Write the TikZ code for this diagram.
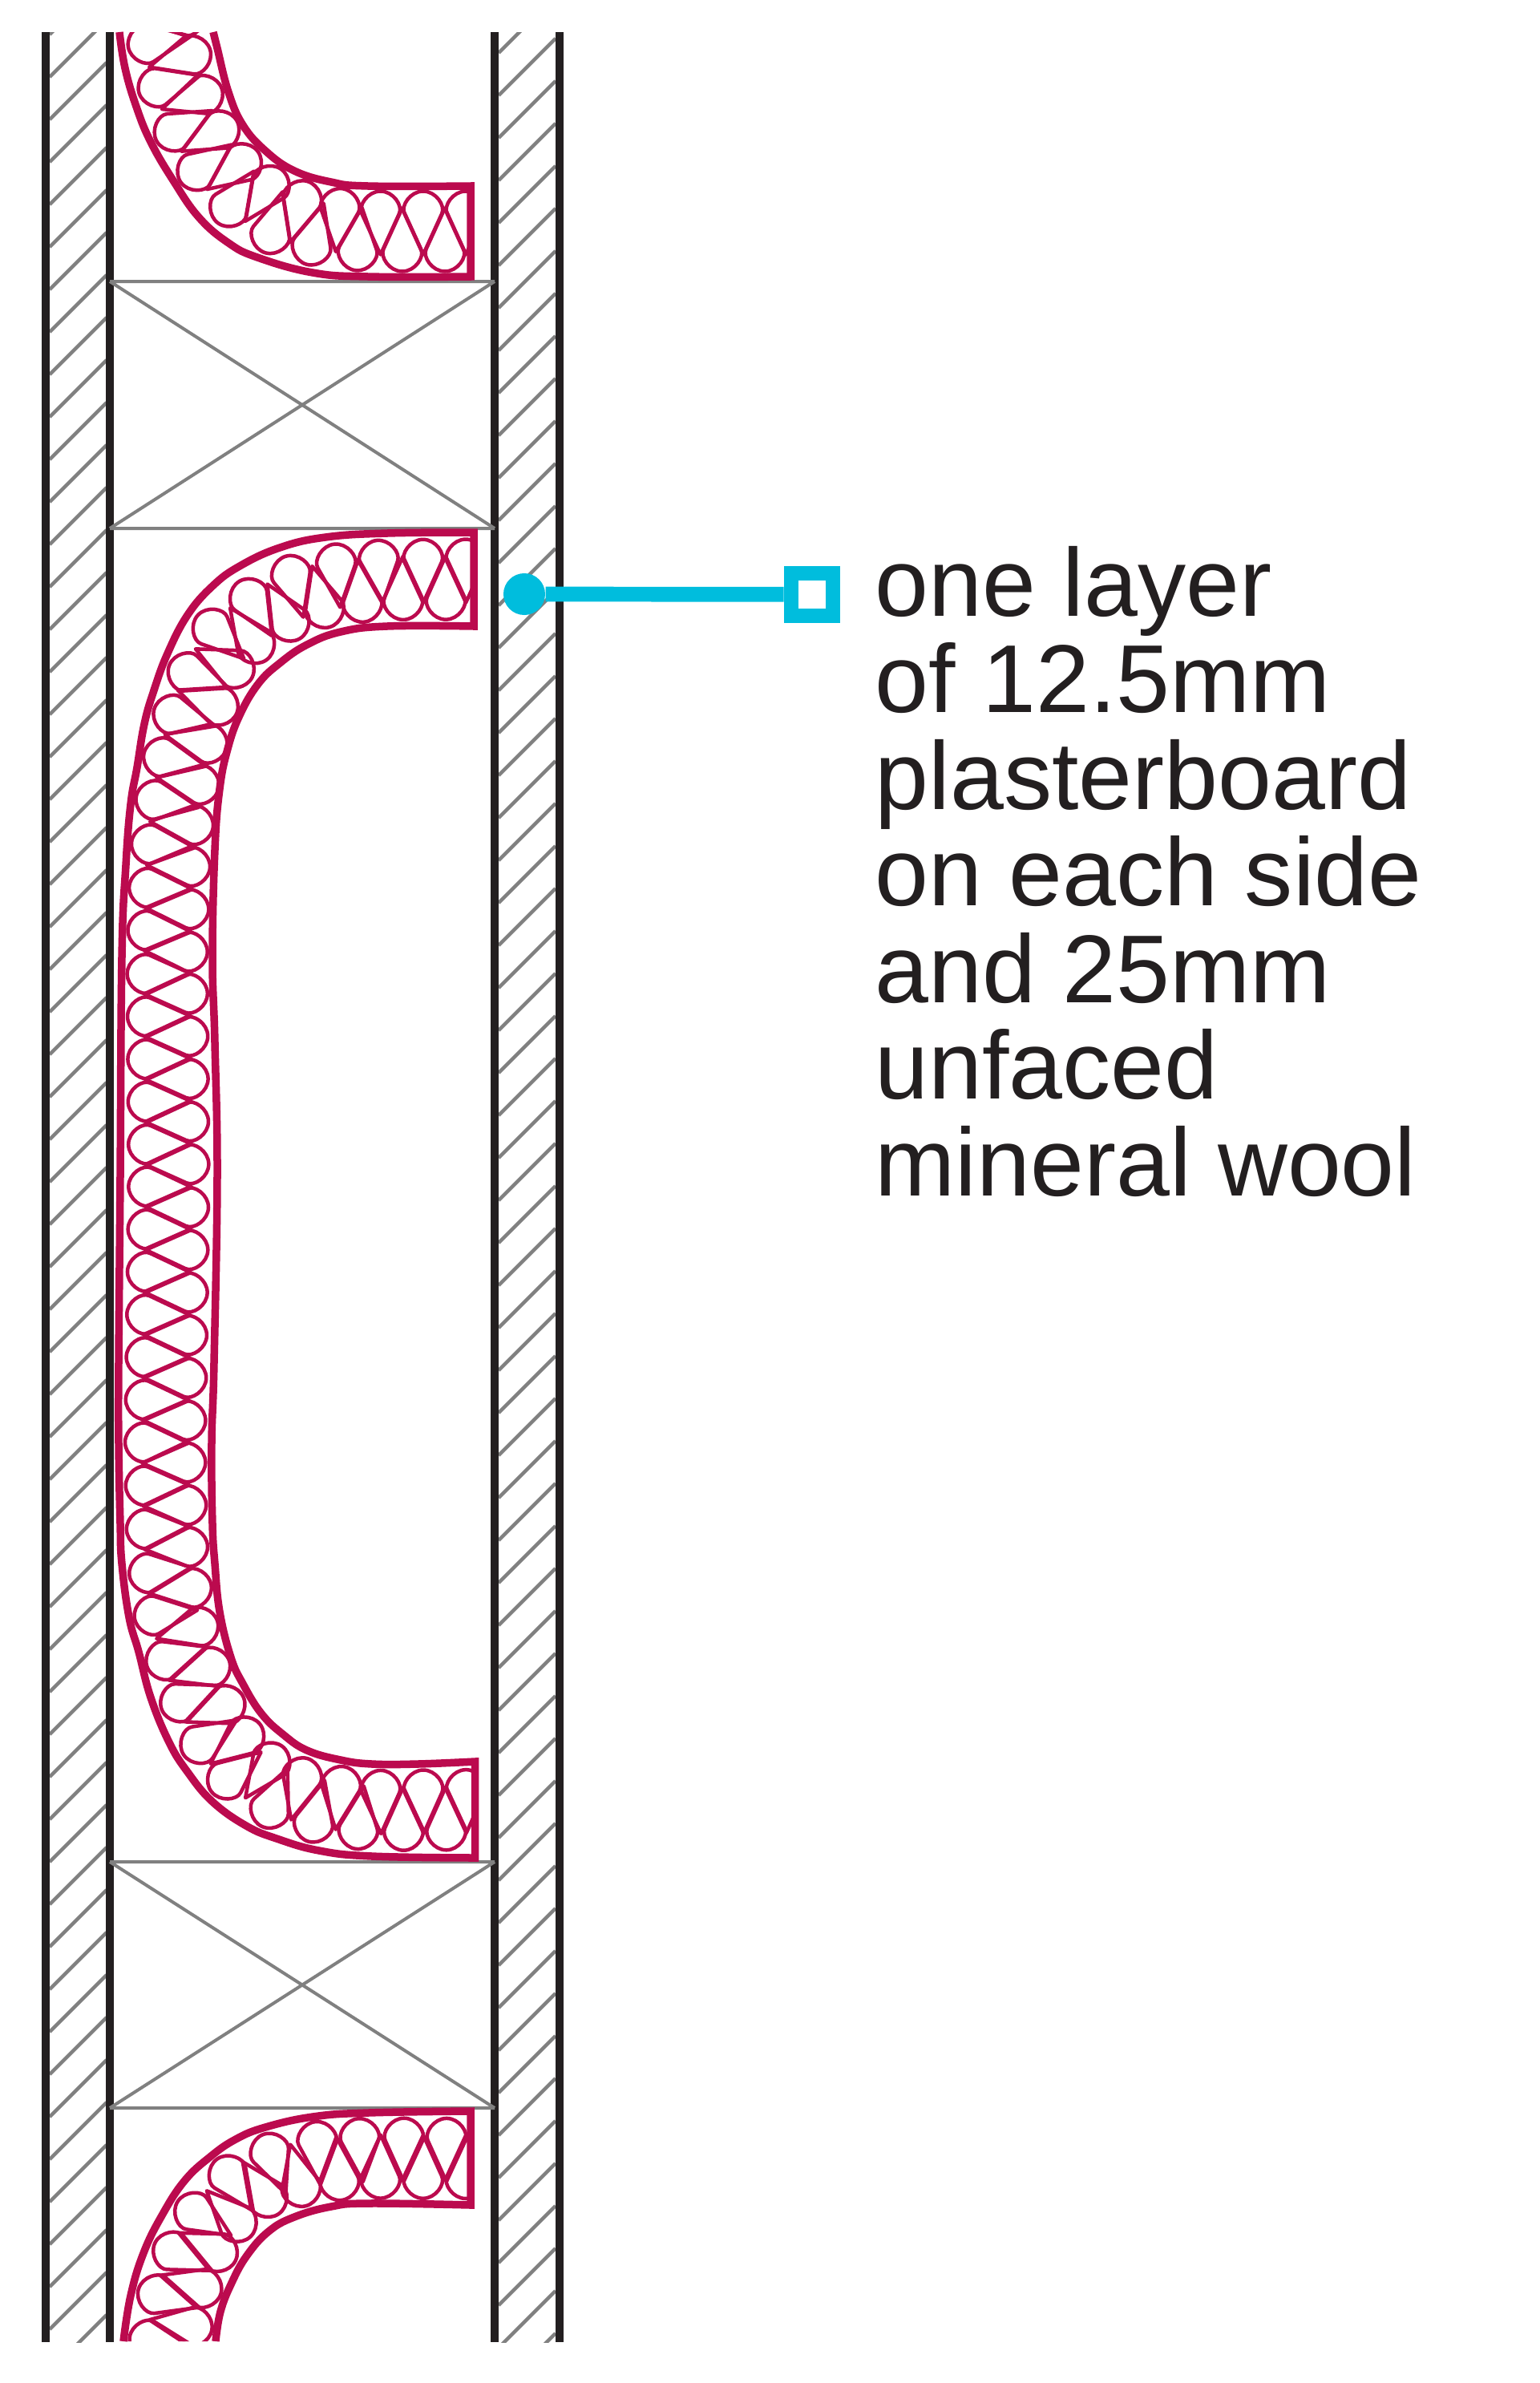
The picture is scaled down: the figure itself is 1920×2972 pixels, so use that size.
\documentclass[tikz,border=0pt]{standalone}
\usepackage{fontspec}
\setmainfont{Liberation Sans}
\usetikzlibrary{decorations.markings}
\definecolor{woolred}{HTML}{BB0A4E}
\definecolor{wallblack}{HTML}{231F20}
\definecolor{linegray}{HTML}{808080}
\definecolor{leadcyan}{HTML}{00BDDD}
\newcommand{\woolloop}[1]{\draw[woolline,yscale=#1] (0,-29) -- (-23.4,22.2) .. controls (-28,32) and (-16,50) .. (0,50) .. controls (16,50) and (28,32) .. (23.4,22.2) -- cycle;}
\newcommand{\bandtop}{plot[smooth,tension=0.7] coordinates {(149,40) (156,85) (170,133) (188,177) (216,225) (248,271) (285,303) (321,321) (390,340) (459,345) (587,345)} -- plot[smooth,tension=0.7] coordinates {(587,232) (459,232) (413,227) (367,213) (331,188) (303,156) (285,115) (271,60) (266,40)}}
\newcommand{\bandmid}{plot[smooth,tension=0.7] coordinates {(591,664) (483,665) (406,670) (349,683) (299,706) (265,731) (234,767) (209,815) (192,861) (180,903) (171,957) (163,1003) (157,1079) (152,1194) (150,1468) (148,1700) (148,1800) (150,1900) (152,1950) (161,2017) (173,2060) (188,2117) (211,2173) (234,2210) (265,2247) (307,2277) (345,2293) (398,2308) (464,2315) (592.5,2317)} -- plot[smooth,tension=0.7] coordinates {(592.5,2197) (521,2200) (464,2200) (425,2195) (383,2183) (353,2163) (326,2137) (303,2100) (288,2067) (274,2010) (268,1950) (265,1900) (264,1800) (267,1700) (271,1468) (268,1300) (265,1194) (268,1060) (274,984) (284,934) (299,892) (322,853) (349,827) (383,804) (425,788) (483,781) (591,781)}}
\newcommand{\bandlow}{plot[smooth,tension=0.7] coordinates {(154,2920) (163,2863) (179,2810) (202,2763) (230,2720) (262,2690) (294,2668) (331,2653) (390,2640) (459,2635) (587,2633)} -- plot[smooth,tension=0.7] coordinates {(587,2750) (459,2748) (413,2752) (367,2765) (335,2783) (308,2813) (289,2847) (275,2883) (269,2920)}}
\tikzset{
  wallbar/.style={wallblack,line width=0.093cm},
  hatchline/.style={linegray,line width=0.045cm},
  timberline/.style={linegray,line width=0.04cm},
  woolband/.style={woolred,line width=0.095cm,line join=miter},
  woolline/.style={woolred,line width=0.045cm,line join=round},
  woolrun/.style 2 args={
    postaction={decorate,decoration={markings,mark=between positions #1 and 1 step 0.5315cm with {\woolloop{1}}}},
    postaction={decorate,decoration={markings,mark=between positions #2 and 1 step 0.5315cm with {\woolloop{-1}}}}},
  leaddot/.style={circle,fill=leadcyan,inner sep=0pt,minimum size=0.52cm},
  leadbox/.style={rectangle,draw=leadcyan,fill=white,line width=0.18cm,inner sep=0pt,minimum size=0.528cm},
  leadline/.style={leadcyan,line width=0.187cm},
  notetext/.style={anchor=base west,align=left,inner sep=0pt,text=wallblack,font=\fontsize{34.2pt}{34.26pt}\selectfont}
}
\begin{document}
\begin{tikzpicture}[x=0.01cm,y=-0.01cm]
\useasboundingbox (0,0) rectangle (1920,2972);
% hatching of the boards
\begin{scope}
\clip (57,40) rectangle (698,2921);
\foreach \k in {0,...,56}{
  \draw[hatchline] (62,{43+53*\k}) -- (133,{43+53*\k-71});
  \draw[hatchline] (622,{13+53*\k}) -- (693,{13+53*\k-71});
}
\end{scope}
\foreach \x in {57,137,617,698}{
  \draw[wallbar] (\x,40) -- (\x,2921);
}
% studs
\draw[timberline] (137,351) -- (617,351) (137,659) -- (617,659) (137,351) -- (617,659) (137,659) -- (617,351);
\draw[timberline] (137,2322) -- (617,2322) (137,2629) -- (617,2629) (137,2322) -- (617,2629) (137,2629) -- (617,2322);
% wool
\begin{scope}
\clip \bandtop -- cycle;
\path[woolrun={0.06cm}{0.32cm}] (587,288.5) -- (459,288.5) -- (401,283) -- (344,267) -- (290,230) -- (260,190) -- (236,146) -- (224,111) -- (213,72) -- (207.5,40) -- (203,0);
\end{scope}
\draw[woolband] \bandtop;
\begin{scope}
\clip \bandmid -- cycle;
\path[woolrun={0.1cm}{0.35cm}] (591,722.5) -- (483,723) -- (415,729) -- (366,743) -- (324,768) -- (298,786) -- (277,808) -- (260,842) -- (245,881) -- (235,918) -- (225,967) -- (217,1015) -- (212,1079) -- (208.5,1194) -- (210.5,1468) -- (207.5,1700) -- (206,1800) -- (207.5,1900) -- (210,1950) -- (218,2017) -- (230,2060) -- (243,2101) -- (263,2149) -- (280,2175) -- (305,2206) -- (335,2227) -- (365,2240) -- (408,2251) -- (464,2258) -- (592.5,2257);
\end{scope}
\draw[woolband] \bandmid -- cycle;
\begin{scope}
\clip \bandlow -- cycle;
\path[woolrun={0.3cm}{0.06cm}] (587,2692) -- (459,2691.5) -- (396,2696) -- (348,2708) -- (322,2718) -- (296,2736) -- (273,2758) -- (252,2791) -- (232,2832) -- (218,2878) -- (211.5,2920) -- (205,2970);
\end{scope}
\draw[woolband] \bandlow;
% leader and note
\node[leaddot] (dot) at (654,741) {};
\node[leadbox] (tip) at (1013,741.3) {};
\draw[leadline] (dot) -- (tip);
\node[notetext] (note) at (1091,1491) {one layer\\of 12.5mm\\plasterboard\\on each side\\and 25mm\\unfaced\\mineral wool};
\end{tikzpicture}
\end{document}
